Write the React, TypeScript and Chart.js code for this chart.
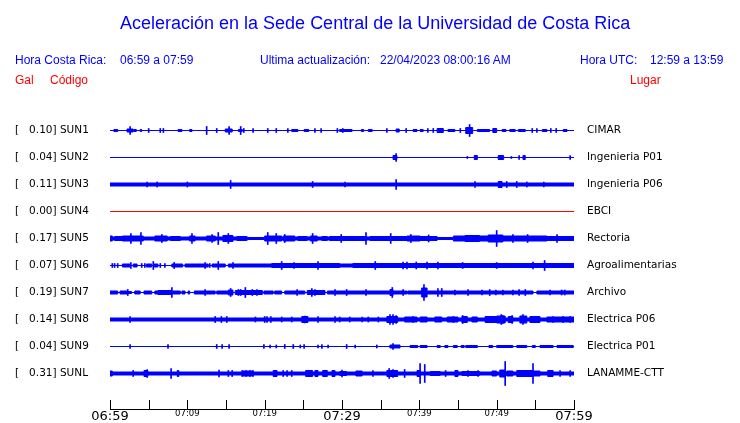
import React, { useEffect, useRef } from 'react';
import { Chart, registerables } from 'chart.js';

Chart.register(...registerables);

// ---------- header texts ----------
const TITLE = 'Aceleración en la Sede Central de la Universidad de Costa Rica';
const LOCAL_LABEL = 'Hora Costa Rica:';
const LOCAL_RANGE = '06:59 a 07:59';
const UPDATE_LABEL = 'Ultima actualización:';
const UPDATE_VALUE = '22/04/2023 08:00:16 AM';
const UTC_LABEL = 'Hora UTC:';
const UTC_RANGE = '12:59 a 13:59';
const HEAD_GAL = 'Gal';
const HEAD_CODE = 'Código';
const HEAD_PLACE = 'Lugar';

// ---------- stations ----------
const CODES = ['SUN1', 'SUN2', 'SUN3', 'SUN4', 'SUN5', 'SUN6', 'SUN7', 'SUN8', 'SUN9', 'SUNL'];
const GAL = [0.1, 0.04, 0.11, 0.0, 0.17, 0.07, 0.19, 0.14, 0.04, 0.31];
const PLACES = ['CIMAR', 'Ingenieria P01', 'Ingenieria P06', 'EBCI', 'Rectoria', 'Agroalimentarias', 'Archivo', 'Electrica P06', 'Electrica P01', 'LANAMME-CTT'];
const ACTIVE = [true, true, true, false, true, true, true, true, true, true];

// x axis (minutes after 06:59)
const X_MIN = 0;
const X_MAX = 60;
const X_STEP = 5;
const X_LABEL_AT = [0, 10, 20, 30, 40, 50, 60];
const X_LABELS = ['06:59', '07:09', '07:19', '07:29', '07:39', '07:49', '07:59'];
const X_MAJOR = [0, 30, 60];

// background amplitude of each trace
const BASE = [0, 0, 1.5, 0, 1.5, 0, 0, 1.5, 0, 1.5];

// bursts: [start minute, end minute, half amplitude]
const SUN1_BURSTS = [[0.5, 1.0, 1], [2.2, 3.0, 1.5], [3.1, 3.4, 1], [3.9, 4.1, 1], [8.8, 9.3, 1], [10.3, 10.6, 1], [14.9, 15.8, 1.5], [16.6, 17.1, 1], [23.5, 24.3, 1], [25.1, 25.7, 1], [29.7, 31.3, 1], [32.5, 32.8, 1], [33.4, 33.9, 1], [37.0, 37.4, 1.5], [39.2, 39.7, 1], [40.1, 40.5, 1], [42.3, 43.1, 2], [43.7, 44.6, 1], [46.0, 46.9, 3], [47.5, 49.1, 1], [49.5, 50.0, 2], [50.7, 51.2, 1], [51.7, 52.4, 1], [52.8, 53.7, 1], [55.9, 56.5, 1], [58.6, 59.1, 1]];
const SUN2_BURSTS = [[36.6, 37.1, 2], [47.1, 47.5, 2], [50.2, 50.9, 2], [53.4, 53.7, 2]];
const SUN3_BURSTS = [[50.2, 50.7, 3]];
const SUN4_BURSTS: number[][] = [];
const SUN5_BURSTS = [[0, 0.3, 2.5], [0.6, 1.6, 2], [1.6, 4.3, 2.5], [5.8, 7.4, 2.5], [7.8, 9.1, 2], [10.3, 11.0, 2.5], [12.5, 13.6, 2.5], [14.6, 15.9, 3], [16.4, 17.7, 2], [17.8, 20.0, 1], [20.0, 22.2, 2.5], [22.4, 23.9, 2.5], [24.3, 25.5, 2], [25.9, 26.8, 2.5], [27.4, 28.1, 2], [28.4, 30.4, 2], [30.4, 33.2, 2], [33.6, 36.2, 2], [36.2, 38.4, 2], [38.4, 40.1, 2.5], [40.1, 42.3, 2], [42.3, 44.4, 1], [44.4, 45.9, 2.5], [45.9, 47.8, 3], [47.8, 48.9, 2.5], [48.9, 50.8, 3.5], [50.8, 56.5, 2.5], [56.5, 60, 2]];
const SUN6_BURSTS = [[1.6, 2.6, 1.5], [3.0, 3.5, 1.5], [4.7, 5.4, 1.5], [5.7, 6.2, 1.5], [8.0, 9.4, 1.5], [9.7, 12.7, 1.5], [13.2, 14.9, 1.5], [15.3, 20.9, 1.5], [20.9, 29.7, 2], [29.7, 31.4, 1.5], [31.4, 60, 2]];
const SUN7_BURSTS = [[0, 1.0, 1.5], [1.3, 2.2, 1.5], [2.3, 2.8, 1], [3.2, 3.9, 1.5], [4.4, 5.4, 1.5], [5.8, 6.2, 1.5], [6.2, 8.0, 2], [8.0, 9.1, 1.5], [9.3, 9.7, 1.5], [10.1, 10.3, 1.5], [10.9, 13.6, 1.5], [13.8, 15.3, 1.5], [15.3, 15.9, 2.5], [16.2, 19.7, 2], [19.9, 21.1, 1.5], [21.3, 22.2, 1.5], [22.6, 25.2, 1.5], [25.5, 27.8, 2], [28.1, 30.4, 1.5], [30.4, 36.2, 1.5], [36.2, 36.6, 3], [36.6, 38.4, 1.5], [38.5, 40.3, 1.5], [40.3, 41.0, 4.5], [41.0, 54.7, 1.5], [55.2, 60, 1.5]];
const SUN8_BURSTS = [[24.8, 25.6, 3], [35.8, 37.2, 3], [38.1, 39.7, 2.5], [40.1, 41.0, 2.5], [42.0, 42.9, 2.5], [43.6, 45.0, 2.5], [45.5, 46.2, 3], [46.8, 47.5, 2.5], [48.5, 50.0, 3], [50.0, 51.1, 3.5], [51.5, 52.1, 3], [53.0, 53.9, 3.5], [54.3, 55.6, 3], [56.5, 60, 2.5]];
const SUN9_BURSTS = [[36.2, 37.5, 1.5], [38.8, 39.8, 1], [40.1, 41.0, 1], [42.3, 42.7, 1], [43.3, 43.7, 1], [44.4, 44.9, 1], [45.4, 45.8, 1], [46.0, 47.5, 1], [49.0, 49.5, 1], [50.0, 52.1, 1], [52.6, 53.9, 1], [54.6, 55.0, 1], [55.6, 57.3, 1], [57.8, 59.9, 1]];
const SUNL_BURSTS = [[0, 0.3, 2.5], [4.4, 4.9, 3], [8.7, 8.9, 3], [17.1, 18.5, 2.5], [21.1, 21.6, 3], [25.3, 26.2, 3], [26.5, 26.9, 3], [27.5, 28.1, 3], [28.7, 29.1, 3], [29.7, 30.6, 2], [31.8, 32.6, 2.5], [35.8, 37.2, 3], [39.7, 40.1, 3], [41.4, 42.7, 2], [44.6, 45.0, 3], [45.5, 47.8, 2], [49.4, 50.0, 2.5], [50.4, 51.1, 3.5], [51.3, 52.1, 2.5], [52.6, 53.3, 3], [53.3, 54.7, 3], [54.7, 55.6, 2.5], [56.6, 57.3, 3]];

// spikes: [minute, half amplitude]
const SUN1_SPIKES = [[2.6, 4], [5.0, 2], [6.5, 2], [6.9, 2], [12.5, 4], [13.8, 2], [15.4, 4], [16.9, 4], [17.3, 2], [18.5, 2], [20.4, 2], [21.5, 2], [23.0, 2], [26.5, 2], [27.3, 2], [29.4, 2], [30.1, 2], [35.8, 2], [38.3, 2], [41.1, 2], [41.8, 2], [45.3, 2], [46.5, 6], [54.6, 2], [55.2, 2], [57.0, 2], [57.7, 2]];
const SUN2_SPIKES = [[37.0, 4], [46.2, 1], [51.9, 1], [52.9, 2], [59.5, 2]];
const SUN3_SPIKES = [[4.8, 2.5], [6.1, 2.5], [10.0, 2.5], [15.6, 4], [26.2, 3], [30.4, 2.5], [37.0, 5], [47.2, 3], [51.3, 3], [52.6, 3], [53.9, 2.5], [56.1, 2.5]];
const SUN4_SPIKES: number[][] = [];
const SUN5_SPIKES = [[2.7, 5], [4.0, 6], [6.7, 4], [10.6, 5], [13.2, 4], [14.0, 6], [15.3, 5], [20.4, 6], [21.5, 5], [22.6, 4], [26.2, 5], [29.9, 4], [33.1, 6], [36.3, 5], [38.9, 4], [41.2, 3.5], [50.0, 8], [52.1, 4], [54.0, 4], [57.8, 4]];
const SUN6_SPIKES = [[0.3, 2], [0.6, 2], [1.0, 2], [2.7, 3], [4.1, 2], [4.5, 2], [5.6, 4], [6.5, 2], [7.1, 2], [8.3, 3], [12.3, 3], [12.9, 2], [14.0, 4], [15.9, 3], [22.2, 4], [23.8, 3], [26.9, 4], [34.3, 4], [37.9, 3.5], [38.4, 3.5], [39.6, 3.5], [41.0, 3.5], [42.4, 3.5], [45.6, 3], [50.0, 3], [54.7, 3.5], [56.2, 5]];
const SUN7_SPIKES = [[2.3, 3], [8.0, 5], [12.3, 3], [15.6, 4], [16.6, 3], [16.9, 3], [17.5, 5], [18.4, 3], [19.0, 3], [24.2, 3], [26.1, 4], [26.5, 3], [29.1, 3], [30.6, 3], [33.1, 3], [36.5, 5], [37.9, 3], [40.6, 8], [42.4, 4], [42.9, 4], [44.6, 2.5], [46.3, 3], [48.1, 2.5], [49.1, 3], [49.9, 2.5], [50.8, 2.5], [52.1, 2.5], [52.9, 3], [53.7, 3], [56.9, 2.5], [58.4, 2.5], [58.8, 2.5]];
const SUN8_SPIKES = [[2.6, 3], [13.6, 3], [14.4, 3], [15.1, 3], [18.8, 2.5], [20.0, 3], [20.3, 3], [20.8, 3], [22.2, 2.5], [23.5, 2.5], [25.2, 3.5], [26.9, 3], [29.1, 3], [29.7, 2.5], [31.0, 2.5], [32.6, 2.5], [33.4, 2.5], [34.7, 2.5], [36.2, 5], [36.6, 5], [37.0, 4], [39.2, 3], [44.4, 3], [45.6, 4], [50.6, 5], [50.8, 4], [52.0, 4], [53.4, 5], [57.3, 3], [58.6, 3], [59.5, 3]];
const SUN9_SPIKES = [[2.6, 2], [7.5, 2], [13.8, 2], [14.5, 2], [15.4, 2], [19.9, 2], [20.7, 1.5], [21.5, 1.5], [22.6, 2], [23.7, 2], [24.6, 1.5], [25.1, 2], [26.9, 1.5], [27.4, 2], [28.2, 1.5], [30.6, 2], [31.7, 1.5], [34.5, 1.5], [36.6, 3]];
const SUNL_SPIKES = [[3.0, 3], [4.8, 4], [7.9, 5], [14.1, 3.5], [15.3, 3], [15.8, 3], [17.1, 3], [17.6, 3], [18.1, 3], [18.5, 3], [22.4, 3], [22.9, 3], [23.5, 3], [30.0, 3.5], [34.0, 3], [36.1, 5], [36.6, 4], [38.1, 4], [40.1, 10], [40.7, 9], [43.4, 3], [46.3, 3], [47.6, 3], [51.1, 12], [54.7, 10], [58.2, 3], [59.5, 3]];

const BURSTS = [SUN1_BURSTS, SUN2_BURSTS, SUN3_BURSTS, SUN4_BURSTS, SUN5_BURSTS, SUN6_BURSTS, SUN7_BURSTS, SUN8_BURSTS, SUN9_BURSTS, SUNL_BURSTS];
const SPIKES = [SUN1_SPIKES, SUN2_SPIKES, SUN3_SPIKES, SUN4_SPIKES, SUN5_SPIKES, SUN6_SPIKES, SUN7_SPIKES, SUN8_SPIKES, SUN9_SPIKES, SUNL_SPIKES];

// ---------- styling ----------
const BLUE = '#0000ff';
const RED = '#ff0000';
const ROW_GAP = 27;
const TEXT_FONT = '"Liberation Sans", Arial, Helvetica, sans-serif';
const AXIS_FONT = '"DejaVu Sans", sans-serif';

function envelope(base: number, bursts: number[][]): number[][] {
  const pts: number[][] = [[X_MIN, base]];
  const sorted = [...bursts].sort((a, b) => a[0] - b[0]);
  for (const [s, e, a] of sorted) {
    pts.push([s, a]);
    pts.push([e, base]);
  }
  pts.push([X_MAX, base]);
  return pts;
}

function leftLabel(i: number): string {
  return `[   ${GAL[i].toFixed(2)}] ${CODES[i]}`;
}

const upTicks = {
  id: 'upTicks',
  afterDraw(chart: any) {
    const x = chart.scales.x;
    const ctx = chart.ctx;
    ctx.save();
    ctx.strokeStyle = '#000';
    ctx.lineWidth = 1;
    ctx.beginPath();
    for (const t of x.ticks) {
      const px = Math.round(x.getPixelForValue(t.value)) + 0.5;
      ctx.moveTo(px, x.top);
      ctx.lineTo(px, x.top - 9);
    }
    ctx.stroke();
    ctx.restore();
  },
};

export default function App() {
  const ref = useRef<HTMLCanvasElement | null>(null);

  useEffect(() => {
    if (!ref.current) return;
    const datasets: any[] = [];
    CODES.forEach((_, i) => {
      const c = i * ROW_GAP;
      const color = ACTIVE[i] ? BLUE : RED;
      const env = envelope(BASE[i], BURSTS[i]);
      const common = {
        type: 'line',
        borderColor: color,
        backgroundColor: color,
        borderWidth: 1,
        pointRadius: 0,
        pointHoverRadius: 0,
        pointHitRadius: 0,
        stepped: true,
        yAxisID: 'y',
      };
      datasets.push({ ...common, data: env.map(([t, a]) => ({ x: t, y: c - a })), fill: false });
      datasets.push({ ...common, data: env.map(([t, a]) => ({ x: t, y: c + a })), fill: '-1' });
      if (SPIKES[i].length) {
        datasets.push({
          type: 'bar',
          data: SPIKES[i].map(([t, a]) => ({ x: t, y: [c - a, c + a] })),
          backgroundColor: color,
          borderWidth: 0,
          barThickness: 1,
          stack: 'spikes',
          yAxisID: 'y',
        });
      }
    });

    const yMin = -ROW_GAP - 0.5;
    const yMax = (CODES.length - 1) * ROW_GAP + 35.5;
    const rowTicks = (s: any) => {
      s.ticks = CODES.map((_, i) => ({ value: i * ROW_GAP }));
    };
    // tiny line height keeps the row labels from padding the plot area
    const rowFont = { family: AXIS_FONT, size: 10.5, lineHeight: 0.1 };

    const chart = new Chart(ref.current, {
      type: 'line',
      data: { datasets },
      options: {
        animation: false,
        responsive: false,
        layout: { autoPadding: false, padding: { top: 103, left: 15, right: 0, bottom: 0 } },
        plugins: { legend: { display: false }, tooltip: { enabled: false }, title: { display: false } },
        scales: {
          x: {
            type: 'linear',
            min: X_MIN,
            max: X_MAX,
            offset: false,
            grid: { display: false, offset: false, drawTicks: false },
            border: { display: true, color: '#000', width: 1 },
            ticks: {
              stepSize: X_STEP,
              autoSkip: false,
              maxRotation: 0,
              padding: 0,
              color: '#000',
              callback: (v: any) => {
                const k = X_LABEL_AT.indexOf(Number(v));
                return k >= 0 ? X_LABELS[k] : '';
              },
              font: (ctx: any) =>
                X_MAJOR.includes(ctx.tick ? ctx.tick.value : -1)
                  ? { family: AXIS_FONT, size: 13, lineHeight: 1.1 }
                  : { family: AXIS_FONT, size: 8.5, lineHeight: 1.2 },
            },
            afterFit: (s: any) => {
              s.height = 14;
            },
          },
          y: {
            type: 'linear',
            position: 'left',
            min: yMin,
            max: yMax,
            reverse: true,
            stacked: false,
            grid: { display: false, drawTicks: false },
            border: { display: false },
            afterBuildTicks: rowTicks,
            ticks: {
              autoSkip: false,
              crossAlign: 'far',
              padding: 0,
              color: '#000',
              font: rowFont,
              callback: (_v: any, i: number) => leftLabel(i),
            },
            afterFit: (s: any) => {
              s.width = 95;
            },
          },
          y2: {
            type: 'linear',
            position: 'right',
            min: yMin,
            max: yMax,
            reverse: true,
            grid: { display: false, drawTicks: false },
            border: { display: false },
            afterBuildTicks: rowTicks,
            ticks: {
              autoSkip: false,
              crossAlign: 'near',
              padding: 13,
              color: '#000',
              font: rowFont,
              callback: (_v: any, i: number) => PLACES[i],
            },
            afterFit: (s: any) => {
              s.width = 166;
            },
          },
        },
      } as any,
      plugins: [upTicks],
    });
    return () => chart.destroy();
  }, []);

  const abs = (left: number, top: number, size: number, color: string): React.CSSProperties => ({
    position: 'absolute',
    left,
    top,
    fontSize: size,
    lineHeight: `${size}px`,
    color,
    whiteSpace: 'pre',
    fontFamily: TEXT_FONT,
  });

  return (
    <div style={{ position: 'absolute', left: 0, top: 0, width: 740, height: 423, background: '#fff', overflow: 'hidden' }}>
      <canvas ref={ref} width={740} height={423} style={{ position: 'absolute', left: 0, top: 0, width: 740, height: 423 }} />
      <div style={abs(120, 14, 18, BLUE)}>{TITLE}</div>
      <div style={abs(15, 54, 12, BLUE)}>{LOCAL_LABEL}</div>
      <div style={abs(120, 54, 12, BLUE)}>{LOCAL_RANGE}</div>
      <div style={abs(260, 54, 12, BLUE)}>{UPDATE_LABEL}</div>
      <div style={abs(380, 54, 12, BLUE)}>{UPDATE_VALUE}</div>
      <div style={abs(580, 54, 12, BLUE)}>{UTC_LABEL}</div>
      <div style={abs(650, 54, 12, BLUE)}>{UTC_RANGE}</div>
      <div style={abs(15, 74, 12, RED)}>{HEAD_GAL}</div>
      <div style={abs(50, 74, 12, RED)}>{HEAD_CODE}</div>
      <div style={abs(630, 74, 12, RED)}>{HEAD_PLACE}</div>
    </div>
  );
}
